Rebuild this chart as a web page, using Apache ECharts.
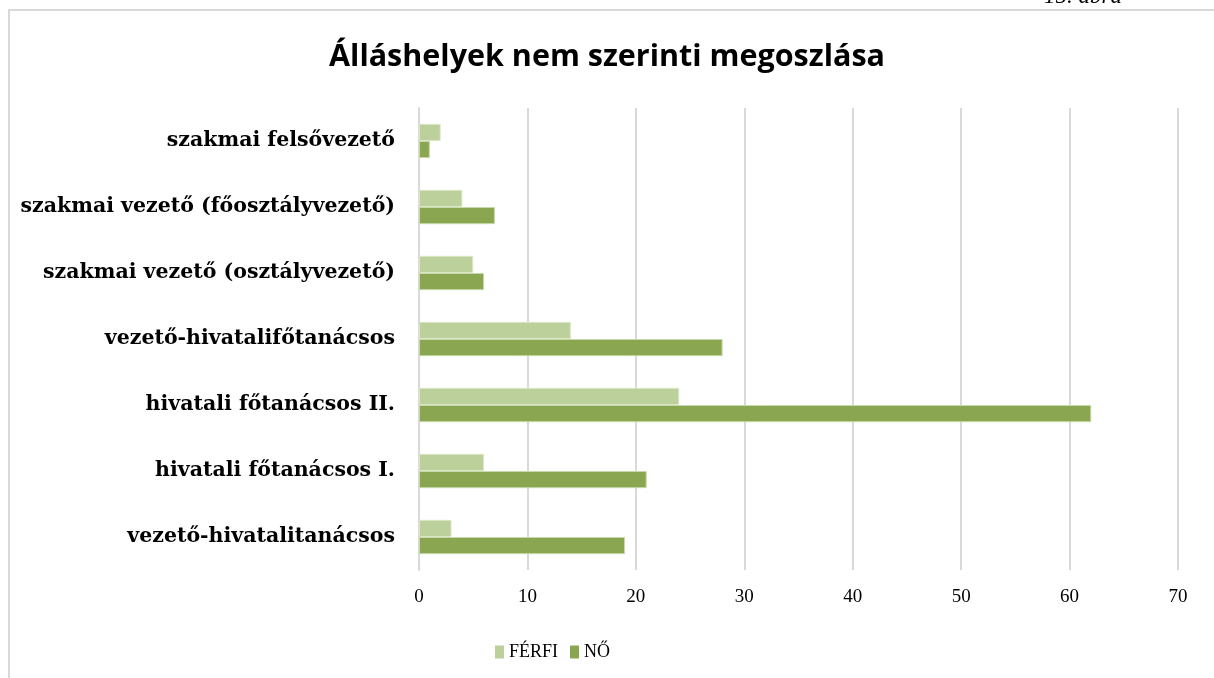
<!DOCTYPE html>
<html><head><meta charset="utf-8">
<script src="https://cdn.jsdelivr.net/npm/echarts@6/dist/echarts.min.js"></script>
<style>html,body{margin:0;padding:0;background:#fff}#c{width:1214px;height:678px}</style>
</head><body><div id="c"></div>
<script>
const categories = ['vezető-hivatalitanácsos','hivatali főtanácsos I.','hivatali főtanácsos II.','vezető-hivatalifőtanácsos','szakmai vezető (osztályvezető)','szakmai vezető (főosztályvezető)','szakmai felsővezető'];
const ferfi = [3, 6, 24, 14, 5, 4, 2];
const no = [19, 21, 62, 28, 6, 7, 1];
const xTicks = [0, 10, 20, 30, 40, 50, 60, 70];
const titleText = 'Álláshelyek nem szerinti megoszlása';

const chart = echarts.init(document.getElementById('c'), null, {renderer:'canvas'});
chart.setOption({
  backgroundColor:'#fff',
  animation:false,
  title:{text:titleText,left:'center',top:37,textStyle:{fontFamily:'Open Sans',fontWeight:'bold',fontSize:30.5,color:'#000'}},
  graphic:[
    {type:'rect',shape:{x:9,y:10,width:1300,height:800},style:{fill:'none',stroke:'#d9d9d9',lineWidth:2},silent:true},
    {type:'text',left:1044,top:-15,style:{text:'15. ábra',font:'italic 23px "Liberation Serif"',fill:'#000'}}
  ],
  legend:{data:['FÉRFI','NŐ'],left:490,top:638,itemWidth:9,itemHeight:13,itemGap:12,icon:'rect',
    itemStyle:{borderWidth:0},
    textStyle:{fontFamily:'Liberation Serif',fontSize:18,color:'#000'}},
  grid:{left:419,right:36,top:108,bottom:108,containLabel:false},
  xAxis:{type:'value',min:0,max:70,interval:10,
    axisLine:{show:false},axisTick:{show:false},
    splitLine:{lineStyle:{color:'#d9d9d9',width:2}},
    axisLabel:{margin:18,fontFamily:'Liberation Serif',fontSize:19,color:'#000',
      formatter:v=>xTicks.includes(v)?String(v):''}},
  yAxis:{type:'category',data:categories,
    axisLine:{show:true,lineStyle:{color:'#d9d9d9',width:2}},axisTick:{show:false},
    axisLabel:{margin:24,fontFamily:'DejaVu Serif',fontWeight:'bold',fontSize:20.5,color:'#000'}},
  series:[
    {name:'FÉRFI',type:'bar',data:ferfi,barCategoryGap:'48%',barGap:'0%',
      itemStyle:{color:'#bbd09a',borderColor:'#dbe7c6',borderWidth:1}},
    {name:'NŐ',type:'bar',data:no,barCategoryGap:'48%',barGap:'0%',
      itemStyle:{color:'#8ba650',borderColor:'#c6d9a8',borderWidth:1}}
  ]
});
</script></body></html>
